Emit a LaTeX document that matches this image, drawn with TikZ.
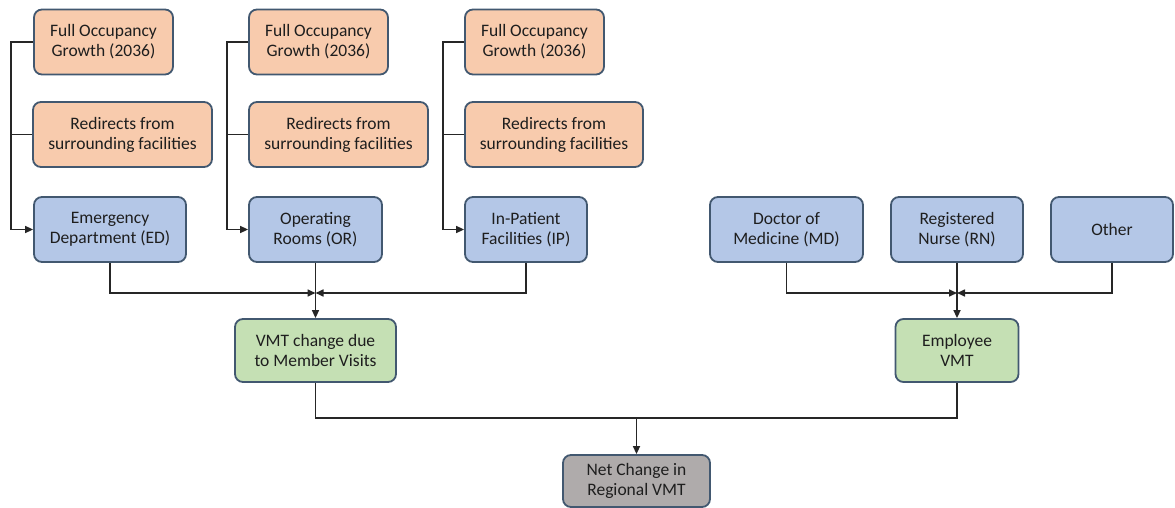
\documentclass[tikz,border=0pt]{standalone}
\usepackage{fontspec}
\setmainfont{Carlito}
\usetikzlibrary{arrows.meta}
\definecolor{bordc}{RGB}{66,88,112}
\definecolor{orfill}{RGB}{248,203,173}
\definecolor{blfill}{RGB}{180,199,231}
\definecolor{grfill}{RGB}{197,224,180}
\definecolor{gyfill}{RGB}{175,171,171}
\definecolor{txt}{RGB}{30,30,30}
\tikzset{
  box/.style={draw=bordc, line width=1.8pt, rounded corners=8pt, align=center,
    text=txt, font=\fontsize{17.5}{20}\selectfont, inner sep=2pt, minimum height=65pt},
  orbox/.style={box, fill=orfill},
  blbox/.style={box, fill=blfill},
  grbox/.style={box, fill=grfill, minimum height=63pt},
  gybox/.style={box, fill=gyfill, minimum height=52pt},
  conn/.style={draw=black!85, line width=1.6pt},
  arr/.style={conn, -{Triangle[length=8pt,width=7pt]}}
}
\begin{document}
\begin{tikzpicture}[x=1pt,y=-1pt]
\useasboundingbox (0,0) rectangle (1175,508);
% column 1
\node[orbox, minimum width=139pt] (fog1) at (103.5,42) {Full Occupancy\\Growth (2036)};
\node[orbox, minimum width=179pt] (red1) at (122.5,134.5) {Redirects from\\surrounding facilities};
\node[blbox, minimum width=152pt] (ed) at (110,229.5) {Emergency\\Department (ED)};
% column 2
\node[orbox, minimum width=139pt] (fog2) at (318.5,42) {Full Occupancy\\Growth (2036)};
\node[orbox, minimum width=179pt] (red2) at (338.5,134.5) {Redirects from\\surrounding facilities};
\node[blbox, minimum width=133pt] (or) at (315.5,229.5) {Operating\\Rooms (OR)};
% column 3
\node[orbox, minimum width=139pt] (fog3) at (534.5,42) {Full Occupancy\\Growth (2036)};
\node[orbox, minimum width=178pt] (red3) at (554,134.5) {Redirects from\\surrounding facilities};
\node[blbox, minimum width=122pt] (ip) at (526,229.5) {In-Patient\\Facilities (IP)};
% staff
\node[blbox, minimum width=153pt] (md) at (786.5,229.5) {Doctor of\\Medicine (MD)};
\node[blbox, minimum width=132pt] (rn) at (957,229.5) {Registered\\Nurse (RN)};
\node[blbox, minimum width=122pt] (other) at (1112,229.5) {Other};
% middle
\node[grbox, minimum width=161pt] (vmt) at (315.5,350.5) {VMT change due\\to Member Visits};
\node[grbox, minimum width=123pt] (emp) at (957,350.5) {Employee\\VMT};
\node[gybox, minimum width=147pt] (net) at (636.5,481) {Net Change in\\Regional VMT};
% left spines
\draw[arr] (fog1.west) -- ++(-22,0) |- (ed.west);
\draw[conn] (red1.west) -- ++(-22,0);
\draw[arr] (fog2.west) -- ++(-21,0) |- (or.west);
\draw[conn] (red2.west) -- ++(-21,0);
\draw[arr] (fog3.west) -- ++(-21,0) |- (ip.west);
\draw[conn] (red3.west) -- ++(-21,0);
% merge to VMT
\coordinate (j1) at (or.south |- 0,293);
\draw[arr] (ed.south) |- (j1);
\draw[arr] (ip.south) |- (j1);
\draw[arr] (or.south) -- (vmt.north);
% merge to employee
\coordinate (j2) at (rn.south |- 0,293);
\draw[arr] (md.south) |- (j2);
\draw[arr] (other.south) |- (j2);
\draw[arr] (rn.south) -- (emp.north);
% bottom
\coordinate (j3) at (net.north |- 0,418);
\draw[conn] (vmt.south) |- (j3) -| (emp.south);
\draw[arr] (j3) -- (net.north);
\end{tikzpicture}
\end{document}
